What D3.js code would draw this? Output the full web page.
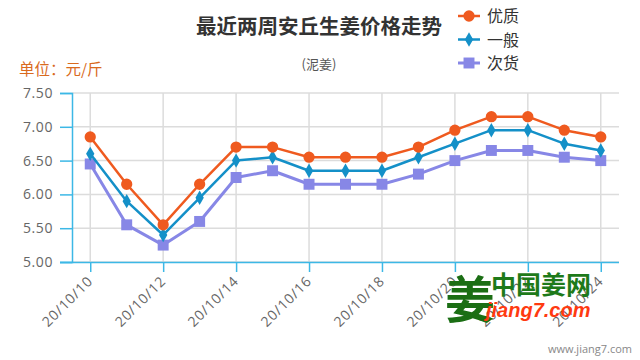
<!DOCTYPE html>
<html><head><meta charset="utf-8">
<script src="https://cdn.jsdelivr.net/npm/d3@7"></script>
<style>
html,body{margin:0;padding:0;background:#fff;}
svg{display:block;font-family:"Open Sans","Noto Sans CJK SC",sans-serif;}
</style></head>
<body>
<svg id="chart" width="640" height="360"></svg>
<script>
const dates = ["20/10/10","20/10/11","20/10/12","20/10/13","20/10/14","20/10/15","20/10/16","20/10/17","20/10/18","20/10/19","20/10/20","20/10/21","20/10/22","20/10/23","20/10/24"];
const youzhi = [6.85,6.15,5.55,6.15,6.70,6.70,6.55,6.55,6.55,6.70,6.95,7.15,7.15,6.95,6.85];
const yiban  = [6.60,5.90,5.40,5.95,6.50,6.55,6.35,6.35,6.35,6.55,6.75,6.95,6.95,6.75,6.65];
const cihuo  = [6.45,5.55,5.25,5.60,6.25,6.35,6.15,6.15,6.15,6.30,6.50,6.65,6.65,6.55,6.50];
const yTicks = [5.00,5.50,6.00,6.50,7.00,7.50];
const seriesNames = ["优质","一般","次货"];

const series = [
  {name: seriesNames[0], values: youzhi, color: "#ef5a1f", marker: "circle", width: 2.5},
  {name: seriesNames[1], values: yiban,  color: "#1490c8", marker: "diamond", width: 2.5},
  {name: seriesNames[2], values: cihuo,  color: "#8787e6", marker: "square", width: 3}
];

const svg = d3.select("#chart");
const pLeft = 72, pRight = 619, pTop = 93, pBottom = 262;

const x = d3.scalePoint().domain(dates).range([pLeft, pRight]).padding(0.5);
const y = d3.scaleLinear().domain([5, 7.5]).range([pBottom, pTop]);

const axisColor = "#3cb8e6";
const gridColor = "#dcdcdc";

svg.append("g").selectAll("line").data(yTicks).join("line")
  .attr("x1", pLeft).attr("x2", pRight)
  .attr("y1", d => y(d)).attr("y2", d => y(d))
  .attr("stroke", gridColor).attr("stroke-width", 1.5);

const labelled = dates.filter((d,i) => i % 2 === 0);
svg.append("g").selectAll("line").data(labelled).join("line")
  .attr("x1", d => x(d)).attr("x2", d => x(d))
  .attr("y1", pTop).attr("y2", pBottom)
  .attr("stroke", gridColor).attr("stroke-width", 1.5);

const yAxis = d3.axisLeft(y).tickValues(yTicks).tickFormat(d3.format(".2f")).tickSize(12).tickPadding(7);
const gy = svg.append("g").attr("transform", `translate(${pLeft},0)`).call(yAxis);
gy.select(".domain").attr("stroke", axisColor).attr("stroke-width", 1.5);
gy.selectAll(".tick line").attr("stroke", axisColor).attr("stroke-width", 1.5);
gy.selectAll(".tick text").attr("fill", "#666").style("font-size", "14px")
  .style("letter-spacing", "0.6px").style("font-family", "Open Sans, sans-serif");

const xAxis = d3.axisBottom(x).tickValues(labelled).tickSize(10).tickSizeOuter(0);
const gx = svg.append("g").attr("transform", `translate(0,${pBottom})`).call(xAxis);
gx.select(".domain").attr("stroke", axisColor).attr("stroke-width", 1.5).attr("d", `M${60},0.5H${pRight}`);
gx.selectAll(".tick line").attr("stroke", axisColor).attr("stroke-width", 1.5);
gx.selectAll(".tick text")
  .attr("fill", "#666").style("font-size", "14px").style("letter-spacing", "0.8px")
  .style("font-family", "Open Sans, sans-serif")
  .attr("text-anchor", "end").attr("dy", null)
  .attr("transform", "translate(3,20) rotate(-45)")
  .attr("y", 0).attr("x", 0);

const line = d3.line().x((d,i) => x(dates[i])).y(d => y(d));
const symbolFor = m => m === "circle" ? d3.symbol(d3.symbolCircle, 100)
                   : m === "diamond" ? d3.symbol(d3.symbolDiamond, 60)
                   : d3.symbol(d3.symbolSquare, 120);

series.slice().reverse().forEach(s => {
  svg.append("path").datum(s.values).attr("d", line)
    .attr("fill", "none").attr("stroke", s.color).attr("stroke-width", s.width)
    .attr("stroke-linejoin", "round");
  svg.append("g").selectAll("path").data(s.values).join("path")
    .attr("d", symbolFor(s.marker))
    .attr("transform", (d,i) => `translate(${x(dates[i])},${y(d)})`)
    .attr("fill", s.color);
});

svg.append("text").attr("x", 319).attr("y", 34).attr("text-anchor", "middle")
  .style("font-family", "Noto Sans CJK SC, sans-serif").style("font-weight", "bold")
  .style("font-size", "20.5px").attr("fill", "#333").text("最近两周安丘生姜价格走势");
svg.append("text").attr("x", 319).attr("y", 69).attr("text-anchor", "middle")
  .style("font-family", "Noto Sans CJK SC, sans-serif")
  .style("font-size", "13px").attr("fill", "#555").text("(泥姜)");

svg.append("text").attr("x", 19).attr("y", 75)
  .style("font-family", "Noto Sans CJK SC, sans-serif")
  .style("font-size", "15.5px").attr("fill", "#d96a1e").text("单位：元/斤");

const lg = svg.append("g");
series.forEach((s, i) => {
  const cy = 16 + i * 23.5;
  lg.append("line").attr("x1", 458).attr("x2", 480).attr("y1", cy).attr("y2", cy)
    .attr("stroke", s.color).attr("stroke-width", s.width);
  lg.append("path").attr("d", symbolFor(s.marker)).attr("transform", `translate(469,${cy})`).attr("fill", s.color);
  lg.append("text").attr("x", 487).attr("y", cy + 6)
    .style("font-family", "Noto Sans CJK SC, sans-serif").style("font-size", "16px")
    .attr("fill", "#333").text(s.name);
});

const wm = svg.append("g");
wm.append("text").attr("x", 470).attr("y", 318).attr("text-anchor", "middle")
  .style("font-family", "Noto Sans CJK SC, sans-serif").style("font-weight", "bold")
  .style("font-size", "50px").attr("fill", "#1b6e14").text("姜");
wm.append("text").attr("x", 491).attr("y", 294)
  .style("font-family", "Noto Sans CJK SC, sans-serif").style("font-weight", "bold")
  .style("font-size", "25px").attr("fill", "#1e7a1a").text("中国姜网");
wm.append("text").attr("x", 486).attr("y", 317)
  .style("font-family", "Liberation Sans, sans-serif").style("font-weight", "bold").style("font-style", "italic")
  .style("font-size", "20px").attr("fill", "#ff3a10").text("jiang7.com");

svg.append("text").attr("x", 632).attr("y", 353).attr("text-anchor", "end")
  .style("font-family", "Open Sans, sans-serif").style("font-size", "11px")
  .attr("fill", "#888").text("www.jiang7.com");
</script>
</body></html>
